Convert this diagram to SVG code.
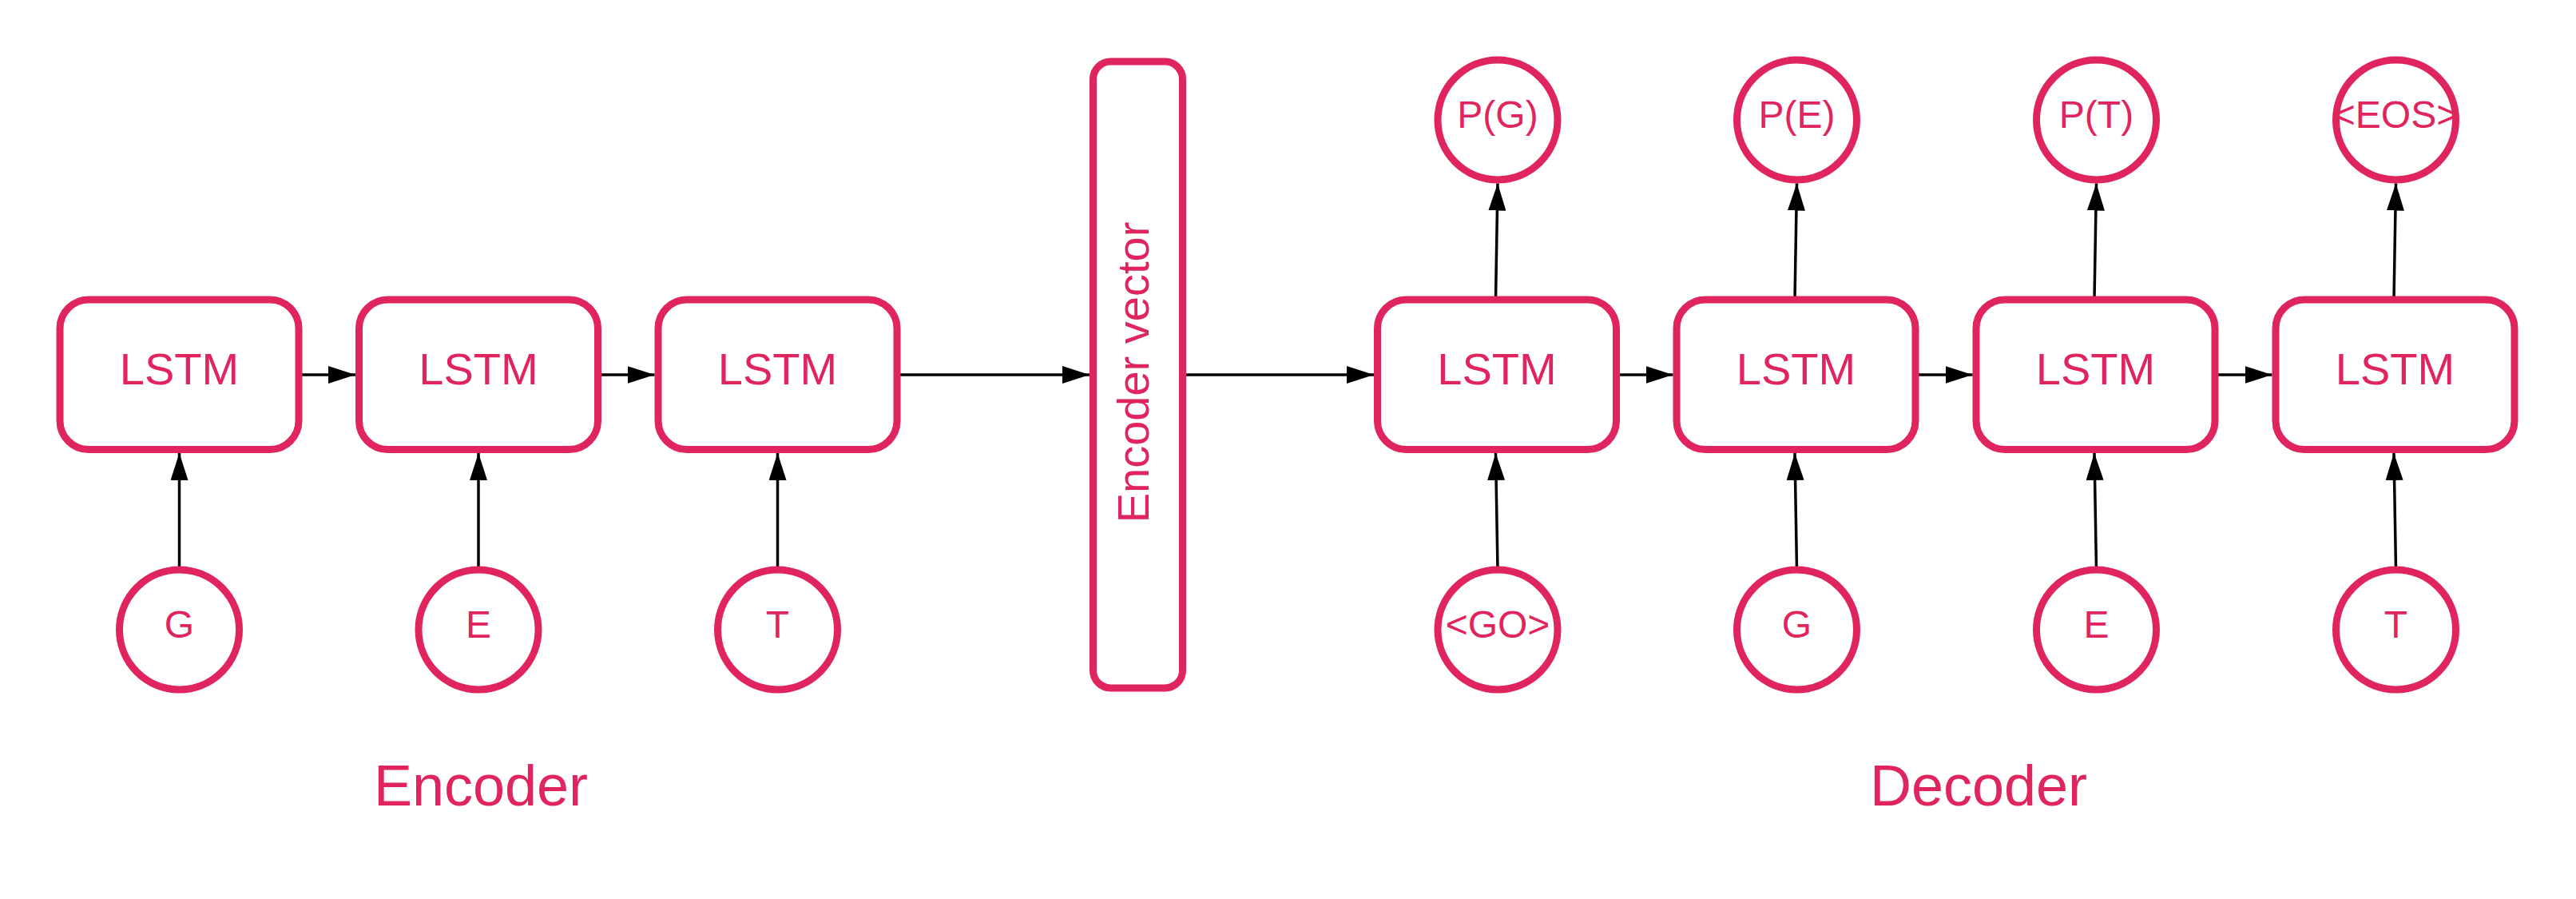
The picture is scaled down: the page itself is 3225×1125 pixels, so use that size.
<svg xmlns="http://www.w3.org/2000/svg" width="3225" height="1125" viewBox="0 0 3225 1125">
<style>
.box{fill:#fff;stroke:#E0245E;stroke-width:9}
.lbl{font-family:"Liberation Sans",Arial,sans-serif;fill:#E0245E;text-anchor:middle}
.l56{font-size:56px}
.l48{font-size:48px}
.l72{font-size:72px}
.edge{stroke:#000;stroke-width:3.5;fill:none;marker-end:url(#arr)}
</style>
<defs>
<marker id="arr" markerUnits="userSpaceOnUse" markerWidth="34" markerHeight="22" refX="34" refY="11" orient="auto">
<path d="M0,0 L34,11 L0,22 z" fill="#000"/>
</marker>
</defs>
<rect width="3225" height="1125" fill="#fff"/>
<g id="connectors">
<line class="edge" x1="374" y1="469" x2="445" y2="469"/>
<line class="edge" x1="748.5" y1="469" x2="819.5" y2="469"/>
<line class="edge" x1="1123" y1="469" x2="1364" y2="469"/>
<line class="edge" x1="1485" y1="469" x2="1720" y2="469"/>
<line class="edge" x1="2023.5" y1="469" x2="2094.5" y2="469"/>
<line class="edge" x1="2398" y1="469" x2="2469.5" y2="469"/>
<line class="edge" x1="2773" y1="469" x2="2844.5" y2="469"/>
<line class="edge" x1="224.5" y1="713" x2="224.5" y2="567"/>
<line class="edge" x1="599" y1="713" x2="599" y2="567"/>
<line class="edge" x1="973.5" y1="713" x2="973.5" y2="567"/>
<line class="edge" x1="1875" y1="713" x2="1872.5" y2="567"/>
<line class="edge" x1="2249.5" y1="713" x2="2247" y2="567"/>
<line class="edge" x1="2624.5" y1="713" x2="2622" y2="567"/>
<line class="edge" x1="2999.5" y1="713" x2="2997" y2="567"/>
<line class="edge" x1="1872.5" y1="375" x2="1875" y2="229.5"/>
<line class="edge" x1="2247" y1="375" x2="2249.5" y2="229.5"/>
<line class="edge" x1="2622" y1="375" x2="2624.5" y2="229.5"/>
<line class="edge" x1="2997" y1="375" x2="2999.5" y2="229.5"/>
</g>
<g id="enc1"><rect class="box" x="75" y="375" width="299" height="187.5" rx="36"/><text class="lbl l56" x="224.5" y="481">LSTM</text></g>
<g id="enc2"><rect class="box" x="449.5" y="375" width="299" height="187.5" rx="36"/><text class="lbl l56" x="599" y="481">LSTM</text></g>
<g id="enc3"><rect class="box" x="824" y="375" width="299" height="187.5" rx="36"/><text class="lbl l56" x="973.5" y="481">LSTM</text></g>
<g id="encvec"><rect class="box" x="1368.5" y="77" width="112" height="784" rx="22"/><text class="lbl l56" transform="translate(1424.5,469) rotate(-90)" x="3" y="13">Encoder vector</text></g>
<g id="dec1"><rect class="box" x="1724.5" y="375" width="299" height="187.5" rx="36"/><text class="lbl l56" x="1874" y="481">LSTM</text></g>
<g id="dec2"><rect class="box" x="2099" y="375" width="299" height="187.5" rx="36"/><text class="lbl l56" x="2248.5" y="481">LSTM</text></g>
<g id="dec3"><rect class="box" x="2474" y="375" width="299" height="187.5" rx="36"/><text class="lbl l56" x="2623.5" y="481">LSTM</text></g>
<g id="dec4"><rect class="box" x="2849" y="375" width="299" height="187.5" rx="36"/><text class="lbl l56" x="2998.5" y="481">LSTM</text></g>
<g id="inG"><circle class="box" cx="224.5" cy="788" r="75"/><text class="lbl l48" x="224.5" y="798">G</text></g>
<g id="inE"><circle class="box" cx="599" cy="788" r="75"/><text class="lbl l48" x="599" y="798">E</text></g>
<g id="inT"><circle class="box" cx="973.5" cy="788" r="75"/><text class="lbl l48" x="973.5" y="798">T</text></g>
<g id="dinGO"><circle class="box" cx="1875" cy="788" r="75"/><text class="lbl l48" x="1875" y="798">&lt;GO&gt;</text></g>
<g id="dinG"><circle class="box" cx="2249.5" cy="788" r="75"/><text class="lbl l48" x="2249.5" y="798">G</text></g>
<g id="dinE"><circle class="box" cx="2624.5" cy="788" r="75"/><text class="lbl l48" x="2624.5" y="798">E</text></g>
<g id="dinT"><circle class="box" cx="2999.5" cy="788" r="75"/><text class="lbl l48" x="2999.5" y="798">T</text></g>
<g id="outG"><circle class="box" cx="1875" cy="150" r="75"/><text class="lbl l48" x="1875" y="160">P(G)</text></g>
<g id="outE"><circle class="box" cx="2249.5" cy="150" r="75"/><text class="lbl l48" x="2249.5" y="160">P(E)</text></g>
<g id="outT"><circle class="box" cx="2624.5" cy="150" r="75"/><text class="lbl l48" x="2624.5" y="160">P(T)</text></g>
<g id="outEOS"><circle class="box" cx="2999.5" cy="150" r="75"/><text class="lbl l48" x="2999.5" y="160">&lt;EOS&gt;</text></g>
<g id="labelEncoder"><text class="lbl l72" x="602" y="1008">Encoder</text></g>
<g id="labelDecoder"><text class="lbl l72" x="2477" y="1008">Decoder</text></g>
</svg>
